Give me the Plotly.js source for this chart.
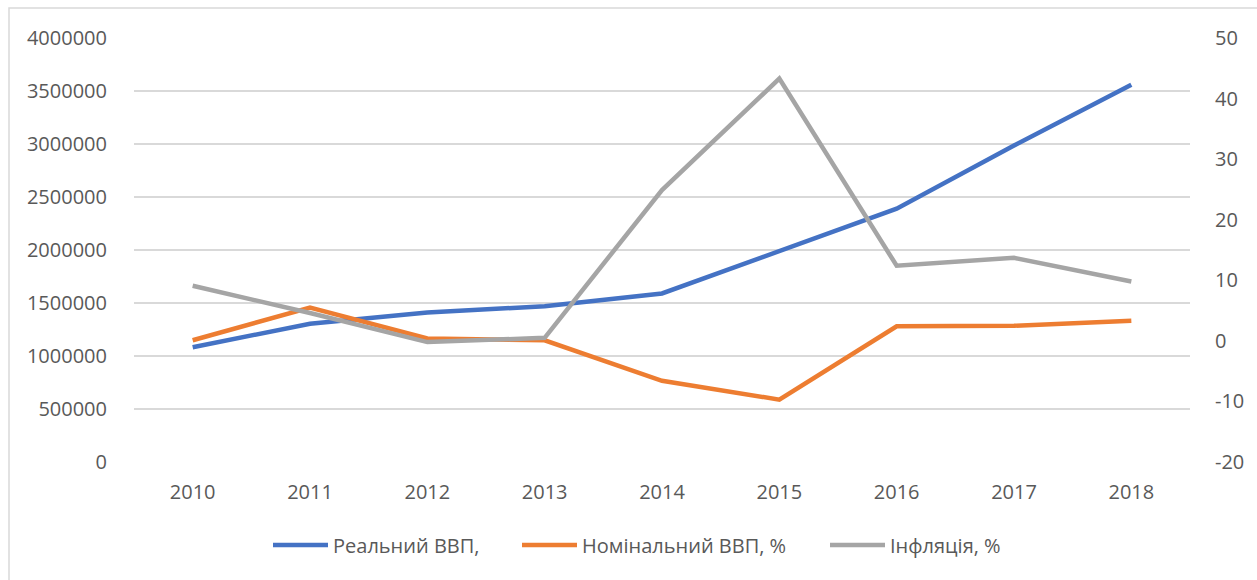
<!DOCTYPE html>
<html>
<head>
<meta charset="utf-8">
<script src="https://cdn.plot.ly/plotly-3.0.1.min.js"></script>
<style>
html,body{margin:0;padding:0;background:#fff;}
#chart{width:1257px;height:580px;}
</style>
</head>
<body>
<div id="chart"></div>
<script>
const years = ["2010","2011","2012","2013","2014","2015","2016","2017","2018"];
const realGDP = [1082000, 1305000, 1410000, 1470000, 1590000, 1995000, 2390000, 2985000, 3560000];
const nominalGDP = [0.1, 5.5, 0.4, 0.1, -6.6, -9.7, 2.4, 2.5, 3.3];
const inflation = [9.1, 4.6, -0.2, 0.5, 24.9, 43.3, 12.4, 13.7, 9.8];

const seriesNames = ["Реальний ВВП,", "Номінальний ВВП, %", "Інфляція, %"];
const colors = ["#4472C4", "#ED7D31", "#A5A5A5"];

const leftTicks = [0, 500000, 1000000, 1500000, 2000000, 2500000, 3000000, 3500000, 4000000];
const rightTicks = [-20, -10, 0, 10, 20, 30, 40, 50];

const font = {family: "Open Sans, Liberation Sans, sans-serif", size: 20, color: "#595959"};

const traces = [
  {x: years, y: realGDP, name: seriesNames[0], type: "scatter", mode: "lines",
   line: {color: colors[0], width: 4.5}, yaxis: "y", legend: "legend"},
  {x: years, y: nominalGDP, name: seriesNames[1], type: "scatter", mode: "lines",
   line: {color: colors[1], width: 4.5}, yaxis: "y2", legend: "legend2"},
  {x: years, y: inflation, name: seriesNames[2], type: "scatter", mode: "lines",
   line: {color: colors[2], width: 4.5}, yaxis: "y2", legend: "legend3"}
];

// plot area geometry (pixels)
const L = 134, R = 67, T = 38, B = 118, W = 1257, H = 580;
const pw = W - L - R, ph = H - T - B;
const px = v => (v - L) / pw;
const py = v => (H - B - v) / ph;

function leg(xpix) {
  return {orientation: "h", x: px(xpix), xanchor: "left", y: py(545), yanchor: "middle",
          font: font, itemwidth: 55, bgcolor: "rgba(0,0,0,0)"};
}

const layout = {
  width: W, height: H,
  margin: {l: L, r: R, t: T, b: B},
  paper_bgcolor: "#fff", plot_bgcolor: "#fff",
  font: font,
  showlegend: true,
  legend: leg(268),
  legend2: leg(517),
  legend3: leg(825),
  xaxis: {type: "category", range: [-0.5, 8.5], showgrid: false, zeroline: false,
          showline: false, ticks: "outside", ticklen: 12, tickcolor: "rgba(0,0,0,0)",
          tickfont: font, fixedrange: true},
  yaxis: {range: [0, 4000000], tickvals: leftTicks, ticktext: leftTicks.map(String),
          showgrid: true, gridcolor: "#D9D9D9", gridwidth: 1.3, zeroline: false, showline: false,
          ticks: "outside", ticklen: 22, tickcolor: "rgba(0,0,0,0)", tickfont: font, fixedrange: true},
  yaxis2: {range: [-20, 50], tickvals: rightTicks, ticktext: rightTicks.map(String),
           overlaying: "y", side: "right", showgrid: false, zeroline: false, showline: false,
           ticks: "outside", ticklen: 20, tickcolor: "rgba(0,0,0,0)", tickfont: font, fixedrange: true},
  shapes: [
    {type: "rect", xref: "paper", yref: "paper", x0: px(9), x1: px(1270), y0: py(8), y1: py(595),
     line: {color: "#D9D9D9", width: 1.5}, fillcolor: "rgba(0,0,0,0)", layer: "below"}
  ]
};

Plotly.newPlot("chart", traces, layout, {displayModeBar: false, staticPlot: true});
</script>
</body>
</html>
